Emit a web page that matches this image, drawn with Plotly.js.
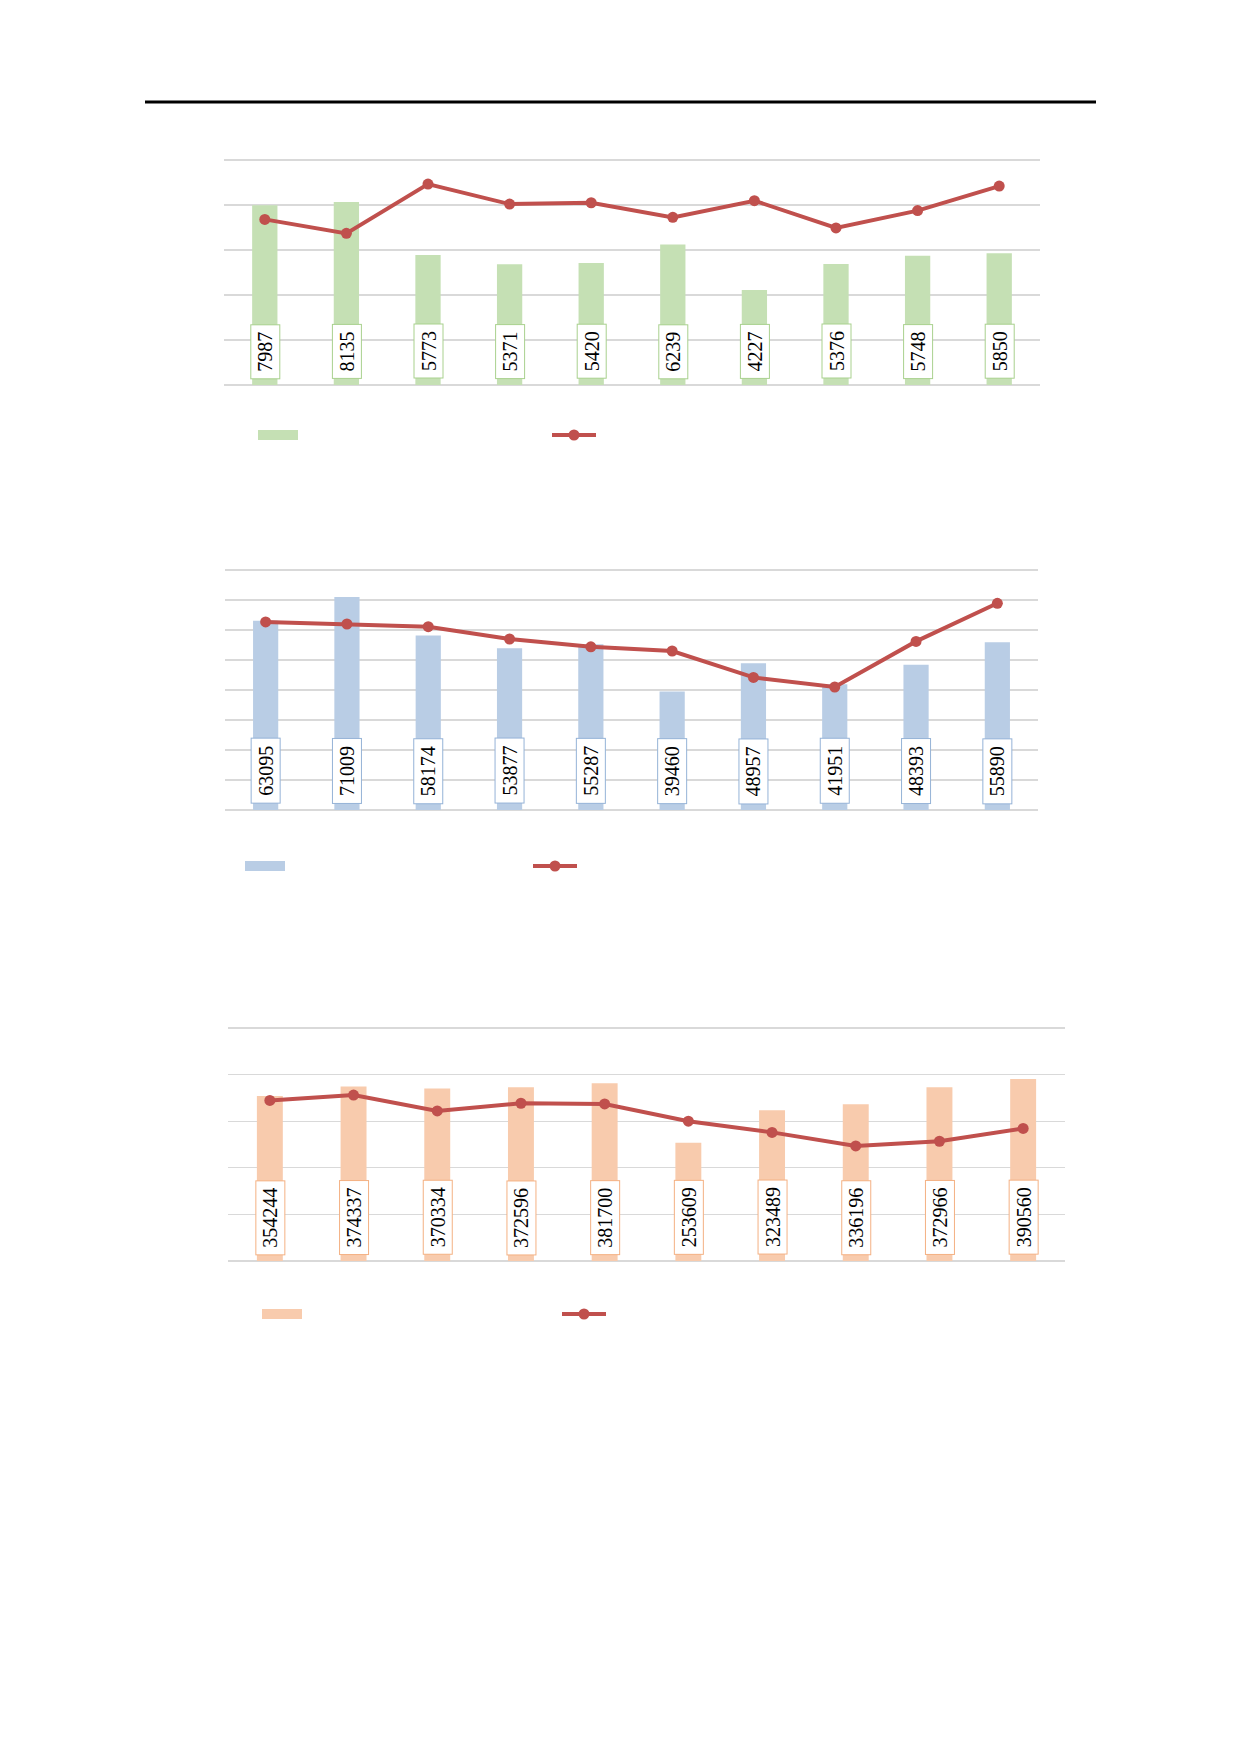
<!DOCTYPE html>
<html>
<head>
<meta charset="utf-8">
<script src="https://cdn.plot.ly/plotly-3.0.1.min.js"></script>
<style>
  html, body { margin: 0; padding: 0; background: #ffffff; }
  #grafico { width: 1240px; height: 1754px; }
</style>
</head>
<body>
<div id="grafico"></div>
<script>
// datos
var categorias = ['2010', '2011', '2012', '2013', '2014', '2015', '2016', '2017', '2018', '2019'];

var barras1 = [7987, 8135, 5773, 5371, 5420, 6239, 4227, 5376, 5748, 5850];
var linea1 = [73.6, 67.4, 89.3, 80.4, 81.0, 74.5, 81.9, 69.8, 77.5, 88.4];

var barras2 = [63095, 71009, 58174, 53877, 55287, 39460, 48957, 41951, 48393, 55890];
var linea2 = [62.7, 62.0, 61.1, 57.0, 54.4, 53.0, 44.2, 41.0, 56.2, 68.9];

var barras3 = [354244, 374337, 370334, 372596, 381700, 253609, 323489, 336196, 372966, 390560];
var linea3 = [68.9, 71.2, 64.4, 67.7, 67.4, 60.0, 55.2, 49.4, 51.4, 56.9];

var W = 1240, H = 1754;
var rojo = '#C0504D';
var gris = '#D9D9D9';
var letra = 'Liberation Serif';

// pixeles -> papel
function px(x) { return x / W; }
function py(y) { return 1 - y / H; }

var paneles = [
  { barras: barras1, linea: linea1, color: '#C5E0B4', borde: '#A9D18E', max: 10000, paso: 2000, max2: 100,
    x0: 224, x1: 1040, y0: 160, y1: 385, caja: 55, ley: 435, rect: 258, lin: 552 },
  { barras: barras2, linea: linea2, color: '#B9CDE5', borde: '#95B3D7', max: 80000, paso: 10000, max2: 80,
    x0: 225, x1: 1038, y0: 570, y1: 810, caja: 66, ley: 866, rect: 245, lin: 533 },
  { barras: barras3, linea: linea3, color: '#F8CBAD', borde: '#F4B183', max: 500000, paso: 100000, max2: 100,
    x0: 228, x1: 1065, y0: 1028, y1: 1261, caja: 75, ley: 1314, rect: 262, lin: 562 }
];

var data = [];
var anotaciones = [];
var formas = [];
var layout = {
  width: W,
  height: H,
  margin: { l: 0, r: 0, t: 0, b: 0 },
  paper_bgcolor: '#ffffff',
  plot_bgcolor: 'rgba(0,0,0,0)',
  showlegend: false,
  bargap: 0.69,
  font: { family: letra, size: 20, color: '#000000' }
};

// linea negra superior
formas.push({ type: 'line', xref: 'paper', yref: 'paper', x0: px(145), x1: px(1096), y0: py(102), y1: py(102),
  line: { color: '#000000', width: 3 } });

paneles.forEach(function (p, i) {
  var n = i + 1;
  var xa = n === 1 ? 'x' : 'x' + n;
  var ya = 'y' + (2 * n - 1 === 1 ? '' : 2 * n - 1);
  var ya2 = 'y' + (2 * n);
  // unos pixeles extra arriba para que se dibuje la rejilla superior
  var extra = 4;
  var f = 1 + extra / (p.y1 - p.y0);

  data.push({
    type: 'bar', x: categorias, y: p.barras, xaxis: xa, yaxis: ya,
    marker: { color: p.color, line: { width: 0 } }, hoverinfo: 'none'
  });
  data.push({
    type: 'scatter', mode: 'lines+markers', x: categorias, y: p.linea, xaxis: xa, yaxis: ya2,
    line: { color: rojo, width: 4 }, marker: { color: rojo, size: 11 }, cliponaxis: false, hoverinfo: 'none'
  });

  layout['xaxis' + (n === 1 ? '' : n)] = {
    domain: [px(p.x0), px(p.x1)], anchor: ya, type: 'category', range: [-0.5, categorias.length - 0.5],
    showticklabels: false, showgrid: false, zeroline: false, showline: false, ticks: ''
  };
  layout['yaxis' + (2 * n - 1 === 1 ? '' : 2 * n - 1)] = {
    domain: [py(p.y1), py(p.y0 - extra)], anchor: xa, range: [0, p.max * f], dtick: p.paso, tick0: 0,
    showticklabels: false, showgrid: true, gridcolor: gris, gridwidth: 1.3,
    zeroline: true, zerolinecolor: gris, zerolinewidth: 1.3, showline: false, ticks: ''
  };
  layout['yaxis' + (2 * n)] = {
    overlaying: ya, anchor: xa, side: 'right', range: [0, p.max2 * f],
    showticklabels: false, showgrid: false, zeroline: false, showline: false, ticks: ''
  };

  // etiquetas con recuadro (x = indice de la categoria)
  p.barras.forEach(function (v, j) {
    anotaciones.push({
      x: j, y: 0, xref: xa, yref: ya,
      text: String(v), textangle: -90, showarrow: false,
      xanchor: 'center', yanchor: 'bottom', yshift: 6,
      width: p.caja - 4, height: 26,
      bgcolor: '#ffffff', bordercolor: p.borde, borderwidth: 1, borderpad: 1,
      font: { family: letra, size: 20, color: '#000000' }
    });
  });

  // leyenda (sin texto)
  formas.push({ type: 'rect', xref: 'paper', yref: 'paper',
    x0: px(p.rect), x1: px(p.rect + 40), y0: py(p.ley + 5), y1: py(p.ley - 5),
    fillcolor: p.color, line: { width: 0 } });
  formas.push({ type: 'line', xref: 'paper', yref: 'paper',
    x0: px(p.lin), x1: px(p.lin + 44), y0: py(p.ley), y1: py(p.ley),
    line: { color: rojo, width: 4 } });
  formas.push({ type: 'circle', xref: 'paper', yref: 'paper',
    x0: px(p.lin + 16.5), x1: px(p.lin + 27.5), y0: py(p.ley + 5.5), y1: py(p.ley - 5.5),
    fillcolor: rojo, line: { width: 0 } });
});

layout.annotations = anotaciones;
layout.shapes = formas;

Plotly.newPlot('grafico', data, layout, { staticPlot: true, displayModeBar: false });
</script>
</body>
</html>
